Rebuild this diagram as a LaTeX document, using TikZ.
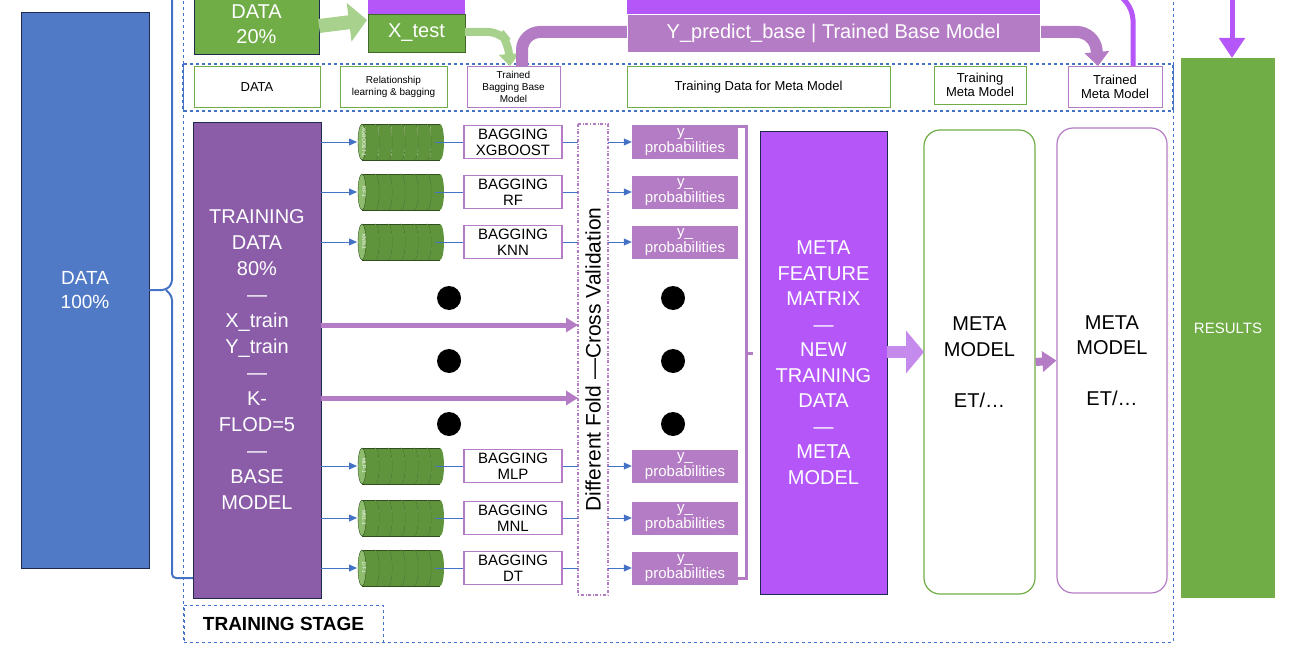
\documentclass[tikz,border=0pt]{standalone}
\usepackage{fontspec}
\setmainfont{Liberation Sans}
\usetikzlibrary{arrows.meta}
\definecolor{blueD}{HTML}{5079C6}
\definecolor{blueL}{HTML}{4472C4}
\definecolor{greenD}{HTML}{70AD47}
\definecolor{greenL}{HTML}{A9D18E}
\definecolor{purT}{HTML}{8B5CA8}
\definecolor{purM}{HTML}{B47CC4}
\definecolor{purB}{HTML}{B557F8}
\definecolor{purA}{HTML}{C48AEC}
\definecolor{navy}{HTML}{1F2A50}
\begin{document}
\begin{tikzpicture}[x=1pt,y=-1pt,
  fbox/.style={draw=navy,line width=0.8pt,inner sep=0pt,align=center,text=white},
  lbl/.style={draw,line width=0.9pt,fill=white,inner sep=0pt,align=center,font=\fontsize{13}{14}\selectfont},
  bag/.style={draw=purM,line width=1.2pt,fill=white,inner sep=0pt,align=center,minimum width=98pt,minimum height=33pt,font=\fontsize{15}{16}\selectfont},
  prob/.style={fill=purM,inner sep=0pt,align=center,text=white,minimum width=106pt,minimum height=33pt,font=\fontsize{15}{16}\selectfont},
  bl/.style={blueL,line width=0.8pt},
  bla/.style={blueL,line width=0.8pt,-{Triangle[width=7pt,length=8pt]}},
  dot/.style={circle,fill=black,minimum size=24pt,inner sep=0pt},
  cyltxt/.style={text=white,font=\fontsize{5}{5}\selectfont,rotate=-90,inner sep=0pt}
]
\useasboundingbox (0,0) rectangle (1300,650);

% dashed frames
\draw[blueL,dashed,line width=0.9pt] (183,-5) rectangle (1173,642);
\draw[blueL,dashed,line width=1.3pt] (183,64) rectangle (1173,111);
\node[draw=blueL,dashed,line width=0.9pt,minimum width=199pt,minimum height=37pt,inner sep=0pt,font=\bfseries\fontsize{19}{19}\selectfont] (stage) at (283.5,623.5) {TRAINING STAGE};

% DATA 100%
\node[fbox,fill=blueD,minimum width=128pt,minimum height=556pt,font=\fontsize{19}{24}\selectfont] (data) at (85,290) {DATA\\100\%};
\coordinate (bt) at (172,-5);
\draw[blueL,line width=2pt,rounded corners=4pt] (data.east) -- (166,290) -- (172,284) -- (bt);
\draw[blueL,line width=2pt,rounded corners=4pt] (166,290) -- (172,296) -- (172,578) -- (193,578);

% top partial boxes
\node[fbox,fill=greenD,minimum width=125pt,minimum height=60pt,font=\fontsize{20}{25}\selectfont] (d20) at (256.5,24) {DATA\\20\%};
\node[fill=purB,minimum width=97pt,minimum height=24pt,inner sep=0pt] (xtr) at (416.5,2) {};
\node[fbox,draw=greenD!60!black,fill=greenD,minimum width=97pt,minimum height=38pt,font=\fontsize{20}{21}\selectfont] (xtest) at (416.5,33) {X\_test};
\draw[greenL,line width=14pt,-{Triangle[width=38pt,length=18pt]}] (319,26) -- (367,20);

% label row
\node[lbl,draw=greenD,minimum width=126pt,minimum height=41pt] (lData) at (257,87) {DATA};
\node[lbl,draw=greenD,minimum width=107pt,minimum height=41pt,font=\fontsize{10}{12}\selectfont] (lRel) at (393.5,87) {Relationship\\learning \& bagging};
\node[lbl,draw=purM,minimum width=93pt,minimum height=41pt,font=\fontsize{10}{12}\selectfont] (lTB) at (513.5,87) {Trained\\Bagging Base\\Model};
\node[lbl,draw=greenD,minimum width=263pt,minimum height=41pt] (lTD) at (758.5,87) {Training Data for Meta Model};
\node[lbl,draw=greenD,minimum width=92pt,minimum height=38pt] (lTM) at (980,85) {Training\\Meta Model};
\node[lbl,draw=purM,minimum width=94pt,minimum height=41pt] (lTMM) at (1115,87) {Trained\\Meta Model};

% curved arrows top
\draw[greenL,line width=8pt,rounded corners=12pt,-{Triangle[width=20pt,length=12pt]}] (465,32) -- (500,32) -- (508,42) -- (510,66);
\draw[purM,line width=12pt,rounded corners=18pt,-{Triangle[width=24pt,length=14pt]}] (522,66) -- (522,32) -- (1095,32) -- (1098,66);
\node[fill=purB,minimum width=413pt,minimum height=24pt,inner sep=0pt] (ypb) at (833.5,2) {};
\node[fbox,draw=white,fill=purM,minimum width=413pt,minimum height=38pt,font=\fontsize{20}{21}\selectfont] (ypred) at (833.5,33) {Y\_predict\_base | Trained Base Model};
\draw[purB,line width=5pt,rounded corners=10pt] (1120,-5) -- (1133,10) -- (1133,66);

% RESULTS
\node[fill=greenD,minimum width=94pt,minimum height=540pt,inner sep=0pt,text=white,font=\fontsize{15}{15}\selectfont] (res) at (1228,328) {RESULTS};
\coordinate (rt) at (1232,-5);
\draw[purB,line width=5pt,-{Triangle[width=25pt,length=20pt]}] (rt) -- (1232,58);

% training data
\node[fbox,fill=purT,minimum width=128pt,minimum height=476pt,font=\fontsize{20}{26}\selectfont] (train) at (257,360) {TRAINING\\DATA\\80\%\\—\\X\_train\\Y\_train\\—\\K-\\FLOD=5\\—\\BASE\\MODEL};

% cross validation
\node[draw=purM,dash dot,line width=2pt,fill=white,minimum width=471pt,minimum height=30pt,inner sep=0pt,rotate=90,font=\fontsize{21}{21}\selectfont] (cv) at (593,359.5) {Different Fold —Cross Validation};

% thick arrows
\draw[purM,line width=5pt,-{Triangle[width=14pt,length=12pt]}] (321,325) -- (578,325);
\draw[purM,line width=5pt,-{Triangle[width=14pt,length=12pt]}] (321,398) -- (578,398);

% rows
\foreach \y/\m/\r in {142/XGBOOST/1,192/RF/2,242/KNN/3,466/MLP/4,518/MNL/5,568/DT/6}{
  \coordinate (cl\r) at (357,\y);
  \coordinate (cr\r) at (435,\y);
  \draw[bla] (321,\y) -- (cl\r);
  \foreach \k/\t in {6/N,5/5,4/4,3/3,2/2,1/1}{
    \pgfmathsetmacro{\xx}{357+(\k-1)*13}
    \fill[greenD!85!black] (\xx+5,\y-18) rectangle (\xx+18,\y+18);
    \fill[greenD!85!black] (\xx+18,\y) ellipse[x radius=4pt,y radius=18pt];
    \draw[greenD!45!black,line width=0.4pt] (\xx+5,\y-18) -- (\xx+18,\y-18) (\xx+5,\y+18) -- (\xx+18,\y+18);
    \draw[greenD!45!black,line width=0.4pt,fill=greenD!80!white] (\xx+5,\y) ellipse[x radius=4pt,y radius=18pt];
    \node[cyltxt] at (\xx+7,\y) {\m-\t};
  }
  \node[bag] (bag\r) at (513,\y) {BAGGING\\\m};
  \node[prob] (pr\r) at (685,\y) {y\_\\probabilities};
  \draw[bl] (cr\r) -- (bag\r);
  \draw[bl] (bag\r.east) -- (578,\y);
  \draw[bla] (608,\y) -- (pr\r);
}

% dots
\foreach \y/\i in {298/1,361/2,424/3}{
  \node[dot] (dl\i) at (449,\y) {};
  \node[dot] (dr\i) at (673,\y) {};
}

% bracket
\draw[purM,line width=3pt] (738,127) -- (746,127) -- (746,578) -- (738,578);
\draw[purM,line width=3pt] (746,353) -- (753,353);

% meta feature
\node[fbox,fill=purB,minimum width=127pt,minimum height=463pt,font=\fontsize{20}{25.5}\selectfont] (mf) at (823.5,362.5) {META\\FEATURE\\MATRIX\\—\\NEW\\TRAINING\\DATA\\—\\META\\MODEL};
\node[draw=greenD,line width=1.2pt,rounded corners=16pt,minimum width=111pt,minimum height=464pt,inner sep=0pt,align=center,font=\fontsize{20}{25.5}\selectfont] (mm1) at (979.5,362) {META\\MODEL\\[25.5pt]ET/…};
\node[draw=purM,line width=1.2pt,rounded corners=16pt,minimum width=110pt,minimum height=465pt,inner sep=0pt,align=center,font=\fontsize{20}{25.5}\selectfont] (mm2) at (1112,360.5) {META\\MODEL\\[25.5pt]ET/…};
\draw[purA,line width=12pt,-{Triangle[width=42pt,length=18pt]}] (887,352) -- (924,352);
\draw[purM,line width=8pt,-{Triangle[width=20pt,length=14pt]}] (mm1.east|-mm1.center) -- (mm2.west|-mm2.center);
\end{tikzpicture}
\end{document}
